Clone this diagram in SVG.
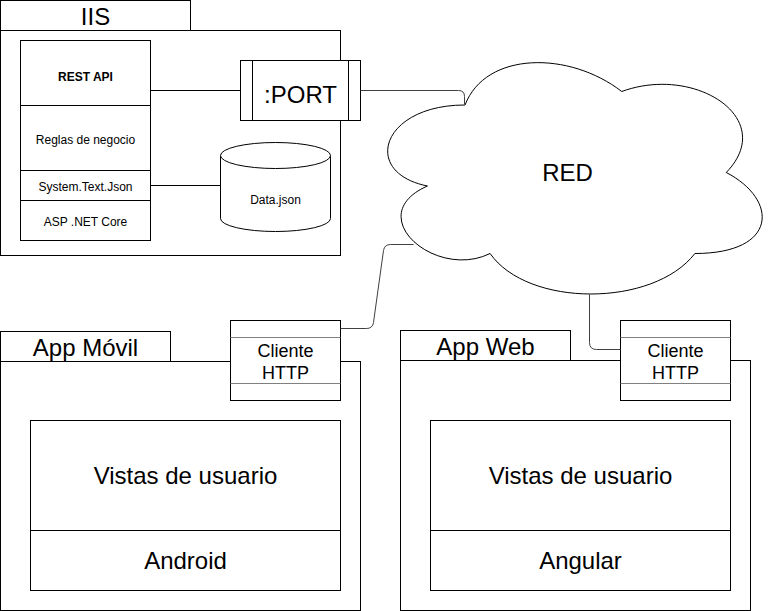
<svg xmlns="http://www.w3.org/2000/svg" width="776" height="611" viewBox="0 0 776 611">
<style>
  .box { fill: #ffffff; stroke: #000000; stroke-width: 1; }
  .thin { fill: none; stroke: #808080; stroke-width: 1; }
  .edge { fill: none; stroke: #404040; stroke-width: 1; }
  .t { font-family: "Liberation Sans", Arial, sans-serif; fill: #000000; text-anchor: middle; }
  .big { font-size: 24px; }
  .mid { font-size: 18px; }
  .sm { font-size: 12px; }
  .b { font-weight: bold; }
</style>
<rect x="0" y="0" width="776" height="611" fill="#ffffff"/>
<g transform="translate(0.5,0.5)">
  <g id="iis">
    <rect class="box" x="0" y="0" width="190" height="30"/>
    <rect class="box" x="0" y="30" width="340" height="225"/>
    <text class="t big" x="95" y="24.5">IIS</text>
  </g>
  <g id="rest-api">
    <rect class="box" x="20" y="40" width="130" height="65"/>
    <text class="t sm b" x="85" y="80">REST API</text>
  </g>
  <g id="reglas">
    <rect class="box" x="20" y="105" width="130" height="65"/>
    <text class="t sm" x="85" y="143">Reglas de negocio</text>
  </g>
  <g id="system-text-json">
    <rect class="box" x="20" y="170" width="130" height="30"/>
    <text class="t sm" x="85" y="190">System.Text.Json</text>
  </g>
  <g id="aspnet">
    <rect class="box" x="20" y="200" width="130" height="40"/>
    <text class="t sm" x="85" y="225">ASP .NET Core</text>
  </g>
  <g id="data-json">
    <path class="box" d="M220,155 A55,13 0 0 1 330,155 L330,218 A55,13 0 0 1 220,218 Z"/>
    <path class="box" fill="none" d="M220,155 A55,13 0 0 0 330,155"/>
    <text class="t sm" x="275" y="203">Data.json</text>
  </g>
  <g id="port">
    <rect class="box" x="240" y="60" width="120" height="60"/>
    <line class="box" x1="252" y1="60" x2="252" y2="120"/>
    <line class="box" x1="348" y1="60" x2="348" y2="120"/>
    <text class="t big" x="300" y="102">:PORT</text>
  </g>
  <g id="red">
    <path class="box" d="M464.5,104.5 C380.9,104.5 360,172 426.9,185.5 C360,215.2 435.2,280 489.6,253 C527.2,307 652.6,307 694.4,253 C778,253 778,199 725.75,172 C778,118 694.4,64 621.25,91 C569,50.5 485.4,50.5 464.5,104.5 Z"/>
    <text class="t big" x="567" y="180">RED</text>
  </g>
  <g id="app-movil">
    <rect class="box" x="0" y="331" width="170" height="30"/>
    <rect class="box" x="0" y="361" width="360" height="249"/>
    <text class="t big" x="85" y="355">App Móvil</text>
  </g>
  <g id="cliente-http-movil">
    <rect class="box" x="230" y="320" width="110" height="80"/>
    <line class="thin" x1="230" y1="337" x2="340" y2="337"/>
    <line class="thin" x1="230" y1="383" x2="340" y2="383"/>
    <text class="t mid" x="285" y="356.5">Cliente</text>
    <text class="t mid" x="285" y="378">HTTP</text>
  </g>
  <g id="vistas-movil">
    <rect class="box" x="30" y="420" width="310" height="110"/>
    <text class="t big" x="185" y="483">Vistas de usuario</text>
  </g>
  <g id="android">
    <rect class="box" x="30" y="530" width="310" height="60"/>
    <text class="t big" x="185" y="568">Android</text>
  </g>
  <g id="app-web">
    <rect class="box" x="400" y="330" width="170" height="30"/>
    <rect class="box" x="400" y="360" width="350" height="250"/>
    <text class="t big" x="485" y="354">App Web</text>
  </g>
  <g id="cliente-http-web">
    <rect class="box" x="620" y="320" width="110" height="80"/>
    <line class="thin" x1="620" y1="337" x2="730" y2="337"/>
    <line class="thin" x1="620" y1="383" x2="730" y2="383"/>
    <text class="t mid" x="675" y="356.5">Cliente</text>
    <text class="t mid" x="675" y="378">HTTP</text>
  </g>
  <g id="vistas-web">
    <rect class="box" x="430" y="420" width="300" height="110"/>
    <text class="t big" x="580" y="483">Vistas de usuario</text>
  </g>
  <g id="angular">
    <rect class="box" x="430" y="530" width="300" height="60"/>
    <text class="t big" x="580" y="568">Angular</text>
  </g>
  <g id="connectors">
    <line class="box" x1="150" y1="90" x2="240" y2="90"/>
    <line class="box" x1="150" y1="185" x2="220" y2="185"/>
    <path class="edge" d="M360,90 L458,90 Q464,90 464,96 L464,104"/>
    <path class="edge" d="M413,244 L390,244 Q384,244 383,250 L373,322 Q372,328 366,328 L340,328"/>
    <path class="edge" d="M589,294 L589,342 Q589,349 596,349 L620,349"/>
  </g>
</g>
</svg>
